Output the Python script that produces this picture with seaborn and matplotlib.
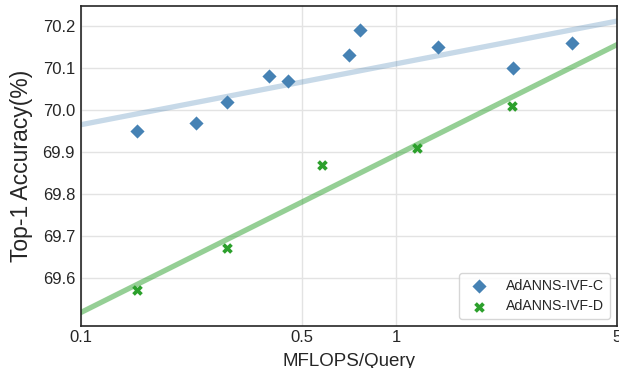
import matplotlib
matplotlib.use("Agg")
import matplotlib.pyplot as plt
import seaborn as sns
import pandas as pd

# MFLOPS per query and top-1 accuracy for the two AdANNS-IVF variants
ivf_c_mflops = [0.150, 0.231, 0.291, 0.393, 0.452, 0.709, 0.769, 1.355, 2.34, 3.61]
ivf_c_acc = [69.95, 69.97, 70.02, 70.08, 70.07, 70.13, 70.19, 70.15, 70.10, 70.16]

ivf_d_mflops = [0.151, 0.291, 0.582, 1.162, 2.33]
ivf_d_acc = [69.57, 69.67, 69.87, 69.91, 70.01]

x_ticks = [0.1, 0.5, 1, 5]
x_tick_labels = ["0.1", "0.5", "1", "5"]
y_ticks = [69.6, 69.7, 69.8, 69.9, 70.0, 70.1, 70.2]

df_c = pd.DataFrame({"mflops": ivf_c_mflops, "acc": ivf_c_acc})
df_d = pd.DataFrame({"mflops": ivf_d_mflops, "acc": ivf_d_acc})

sns.set_theme(style="whitegrid", rc={
    "axes.edgecolor": "0.15",
    "axes.linewidth": 1.2,
    "grid.color": "0.89",
    "grid.linewidth": 1.0,
})
plt.rcParams["font.family"] = ["Liberation Sans", "DejaVu Sans"]

fig = plt.figure(figsize=(6.19, 3.68), dpi=100)
ax = fig.add_axes([81 / 619, 42 / 368, 536 / 619, 320 / 368])
ax.set_xscale("log")
ax.set_xlim(0.1, 5)
ax.set_ylim(69.485, 70.248)

sns.regplot(data=df_c, x="mflops", y="acc", ax=ax, logx=True, ci=None,
            truncate=False, marker="D", color="#4682b4", label="AdANNS-IVF-C",
            scatter_kws={"s": 52, "alpha": 1, "linewidths": 0, "zorder": 3},
            line_kws={"color": "#4682b4", "alpha": 0.3, "lw": 3.8, "zorder": 2})

sns.regplot(data=df_d, x="mflops", y="acc", ax=ax, logx=True, ci=None,
            truncate=False, marker="X", color="#2ca02c", label="AdANNS-IVF-D",
            scatter_kws={"s": 58, "alpha": 1, "linewidths": 0, "zorder": 3},
            line_kws={"color": "#2ca02c", "alpha": 0.5, "lw": 3.8, "zorder": 2})

ax.set_xticks(x_ticks)
ax.set_xticklabels(x_tick_labels)
ax.xaxis.set_minor_locator(matplotlib.ticker.NullLocator())
ax.set_yticks(y_ticks)
ax.set_yticklabels([f"{v:.1f}" for v in y_ticks])
ax.tick_params(axis="both", labelsize=12, length=0)
ax.tick_params(axis="x", pad=3)
ax.tick_params(axis="y", pad=4.3)

ax.set_xlabel("MFLOPS/Query", fontsize=13.5, labelpad=6)
ax.set_ylabel("Top-1 Accuracy(%)", fontsize=16.5, labelpad=7)

ax.legend(loc="lower right", fontsize=10.2, frameon=True,
          borderpad=0.4, handletextpad=0.9, labelspacing=0.45)

fig.savefig("out.png", dpi=100)
